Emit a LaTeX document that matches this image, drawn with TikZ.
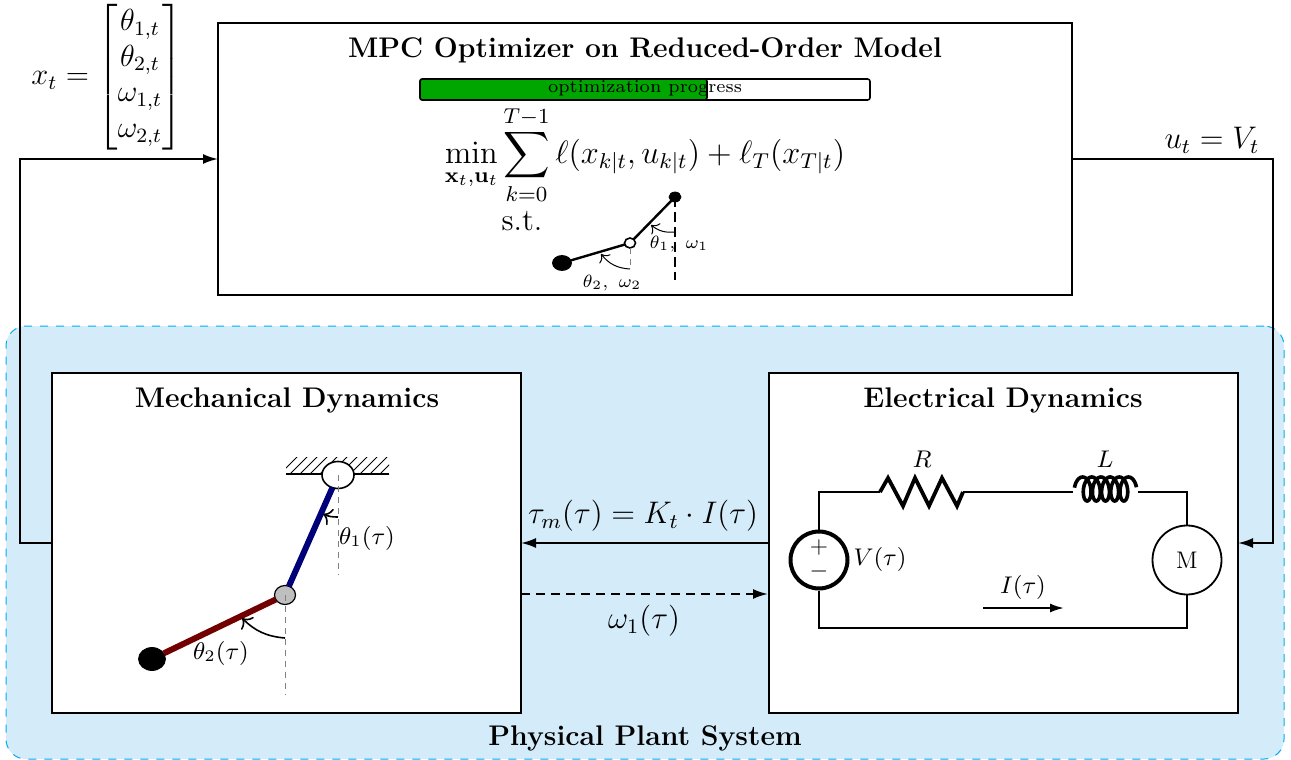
\documentclass[tikz,border=0pt]{standalone}
\usepackage{amsmath}
\usetikzlibrary{arrows.meta,calc,shapes.geometric}
\definecolor{plantfill}{RGB}{212,236,250}
\definecolor{plantedge}{RGB}{0,174,239}
\definecolor{bargreen}{RGB}{0,166,0}
\definecolor{linkblue}{RGB}{0,0,120}
\definecolor{linkred}{RGB}{115,0,0}
\tikzset{
  panel/.style={draw=black,fill=white,line width=1pt,inner sep=0pt,outer sep=0pt},
  wire/.style={line width=1pt},
  flow/.style={line width=1pt,-{Latex[length=7.5pt,width=5pt]}},
  hinge/.style={ellipse,draw=black,inner sep=0pt,outer sep=0pt},
  guide/.style={dash pattern=on 3pt off 2.5pt,line width=.3pt,draw=gray},
  bigtitle/.style={font=\Large\bfseries,scale=.986},
  biglabel/.style={font=\large,scale=1.3},
  midlabel/.style={font=\small,scale=1.34},
  tinylabel/.style={font=\scriptsize,scale=1.27},
  anglearc/.style={-{Computer Modern Rightarrow[scale=1.25]}},
}
\begin{document}
\begin{tikzpicture}[x=0.5pt,y=-0.5pt]
\useasboundingbox (0,0) rectangle (1291,760);
% plant background
\node[draw=plantedge,fill=plantfill,dash pattern=on 4pt off 4pt,line width=.5pt,rounded corners=10pt,minimum width=639pt,minimum height=216.5pt,inner sep=0pt] (plant) at (645,542.5) {};
\node[bigtitle] (planttitle) at (645,738) {Physical Plant System};
% boxes
\node[panel,minimum width=427pt,minimum height=136pt] (mpc) at (645,159) {};
\node[panel,minimum width=234.5pt,minimum height=170pt] (mech) at (286.5,543) {};
\node[panel,minimum width=234.5pt,minimum height=170pt] (elec) at (1003.5,543) {};
% titles
\node[bigtitle] (mpctitle) at (645,50) {MPC Optimizer on Reduced-Order Model};
\node[bigtitle] (mechtitle) at (287,400.5) {Mechanical Dynamics};
\node[bigtitle] (electitle) at (1003,400.5) {Electrical Dynamics};
% progress bar
\node[draw=black,fill=white,line width=.8pt,rounded corners=1.2pt,minimum width=225pt,minimum height=10.5pt,inner sep=0pt] (bar) at (645,89.5) {};
\node[draw=black,fill=bargreen,line width=.8pt,rounded corners=1.2pt,minimum width=143.5pt,minimum height=10.5pt,inner sep=0pt] (barfill) at (563.5,89.5) {};
\node[font=\scriptsize,scale=1.29,inner sep=0pt] (bartext) at (645,88.5) {optimization progress};
% cost
\node[font=\large,scale=1.345] (cost) at (645,155) {$\displaystyle\min_{\mathbf{x}_t,\mathbf{u}_t}\sum_{k=0}^{T-1}\ell(x_{k|t},u_{k|t})+\ell_T(x_{T|t})$};
\node[biglabel] (st) at (522,221) {s.t.};
% small pendulum
\coordinate (sbase) at (675,280);
\coordinate (sjb) at (630,268);
\node[hinge,fill=black,minimum width=6pt,minimum height=5pt] (stop) at (675,197) {};
\node[hinge,fill=black,minimum width=9.5pt,minimum height=7.5pt] (smass) at (562,263) {};
\node[hinge,fill=white,line width=.8pt,minimum width=5.5pt,minimum height=5pt] (sjoint) at (630,243) {};
\draw[line width=.6pt,dash pattern=on 5pt off 2.5pt] (stop.center) -- (sbase);
\draw[guide] (sjoint.south) -- (sjb);
\draw[line width=1.2pt] (stop) -- (sjoint);
\draw[line width=1.2pt] (sjoint) -- (smass);
\coordinate (sa1) at (675,232); \coordinate (sb1) at (651,225);
\coordinate (sa2) at (630,269); \coordinate (sb2) at (601,254);
\draw[anglearc,line width=.5pt] (sa1) to[bend left=22] (sb1);
\draw[anglearc,line width=.5pt] (sa2) to[bend left=24] (sb2);
\node[tinylabel] (th1lab) at (679,244) {$\theta_1,\ \omega_1$};
\node[tinylabel] (th2lab) at (612,283) {$\theta_2,\ \omega_2$};
% state vector
\node[font=\large,scale=1.27] (state) at (107,77) {$x_t=\begin{bmatrix}\theta_{1,t}\\ \theta_{2,t}\\ \omega_{1,t}\\ \omega_{2,t}\end{bmatrix}$};
\node[biglabel] (ulab) at (1212,140) {$u_t=V_t$};
% connectors outer
\coordinate (lf1) at (20,543); \coordinate (lf2) at (20,159);
\coordinate (rf1) at (1273,159); \coordinate (rf2) at (1273,543);
\draw[flow] (mech.west) -- (lf1) -- (lf2) -- (mpc.west);
\draw[flow] (mpc.east) -- (rf1) -- (rf2) -- (elec.east);
% coupling
\coordinate (dm) at (521,594); \coordinate (de) at (768,594);
\draw[flow] (elec.west) -- (mech.east);
\draw[flow,dash pattern=on 4.5pt off 3pt] (dm) -- (de);
\node[biglabel] (torque) at (643,516) {$\tau_m(\tau)=K_t\cdot I(\tau)$};
\node[biglabel] (omega) at (644,621) {$\omega_1(\tau)$};
% mechanical pendulum
\begin{scope}
\clip (286,457) rectangle (389,474);
\foreach \i in {0,...,12} \draw[line width=.4pt] (278+\i*10,476) -- ++(22,-22);
\end{scope}
\coordinate (gl) at (286,474); \coordinate (gr) at (389,474);
\draw[line width=.9pt] (gl) -- (gr);
\node[hinge,fill=white,line width=.8pt,minimum width=16pt,minimum height=13.5pt] (pivot) at (338,475) {};
\node[hinge,fill=black,minimum width=13.5pt,minimum height=11.5pt] (mass) at (152,659) {};
\node[hinge,fill=black!25,line width=.6pt,minimum width=10.5pt,minimum height=9.5pt] (joint) at (285,595) {};
\draw[linkblue,line width=3pt] (pivot) -- (joint);
\draw[linkred,line width=3pt] (joint) -- (mass);
\coordinate (g1) at (338,575); \coordinate (g2) at (285,695);
\draw[guide] (pivot.center) -- (g1);
\draw[guide] (joint.center) -- (g2);
\coordinate (a1) at (338,517); \coordinate (b1) at (323,514);
\coordinate (a2) at (285,638); \coordinate (b2) at (242,618);
\draw[anglearc,line width=.8pt] (a1) to[bend left=12] (b1);
\draw[anglearc,line width=.8pt] (a2) to[bend left=20] (b2);
\node[midlabel] (t1) at (367,538) {$\theta_1(\tau)$};
\node[midlabel] (t2) at (221,653) {$\theta_2(\tau)$};
% circuit
\node[circle,draw=black,line width=2pt,minimum size=28.5pt,inner sep=0pt] (vs) at (819,560) {};
\node[circle,draw=black,line width=.9pt,fill=white,minimum size=34.5pt,inner sep=0pt] (motor) at (1187,560) {\large M};
\coordinate (tl) at (819,492); \coordinate (tr) at (1187,492);
\coordinate (bl) at (819,628); \coordinate (br) at (1187,628);
\coordinate (rs) at (880,492); \coordinate (re) at (963,492);
\coordinate (ls) at (1073,492); \coordinate (le) at (1138,492);
\draw[wire] (vs.north) -- (tl) -- (rs);
\draw[wire] (re) -- (ls);
\draw[wire] (le) -- (tr) -- (motor.north);
\draw[wire] (motor.south) -- (br) -- (bl) -- (vs.south);
\draw[line width=1.9pt,line join=miter] (rs) -- (888,478) -- (903,506) -- (915,478) -- (929,506) -- (942,478) -- (957,506) -- (re);
\draw[line width=1.8pt,line join=round] plot[domain=-4.6:29.7,samples=260] ({1105.5+1.46*(\x-12.566)-6*sin(\x r)},{489+12*cos(\x r)});
\node[font=\large,inner sep=0pt] (plus) at (819,547) {$+$};
\node[font=\large,inner sep=0pt] (minus) at (819,571) {$-$};
\node[midlabel] (vlab) at (880,559) {$V(\tau)$};
\node[midlabel] (rlab) at (922,459) {$R$};
\node[midlabel] (llab) at (1105,459) {$L$};
\coordinate (ia) at (983,608); \coordinate (ib) at (1064,608);
\draw[wire,-{Latex[length=7pt,width=4.5pt]}] (ia) -- (ib);
\node[midlabel] (ilab) at (1023,587) {$I(\tau)$};
\end{tikzpicture}
\end{document}
